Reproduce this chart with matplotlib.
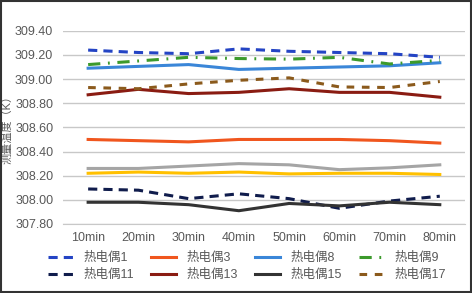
import numpy as np
import matplotlib
matplotlib.use('Agg')
import matplotlib.pyplot as plt
from matplotlib.patches import Rectangle

plt.rcParams['font.family'] = ['Liberation Sans', 'Noto Sans CJK SC', 'DejaVu Sans']

times = ['10min', '20min', '30min', '40min', '50min', '60min', '70min', '80min']

# thermocouple readings (K)
tc1 = [309.24, 309.22, 309.21, 309.25, 309.23, 309.22, 309.21, 309.18]
tc3 = [308.50, 308.49, 308.48, 308.50, 308.50, 308.50, 308.49, 308.47]
tc8 = [309.09, 309.105, 309.12, 309.08, 309.09, 309.10, 309.11, 309.135]
tc9 = [309.12, 309.15, 309.18, 309.17, 309.165, 309.18, 309.125, 309.155]
tc11 = [308.09, 308.08, 308.01, 308.05, 308.01, 307.93, 307.99, 308.03]
tc13 = [308.87, 308.915, 308.88, 308.89, 308.92, 308.89, 308.89, 308.85]
tc15 = [307.98, 307.98, 307.96, 307.91, 307.97, 307.95, 307.98, 307.96]
tc17 = [308.93, 308.92, 308.96, 308.99, 309.01, 308.935, 308.93, 308.98]
# two more series drawn in the chart but cut from its legend
tc_gray = [308.26, 308.26, 308.28, 308.30, 308.29, 308.25, 308.265, 308.29]
tc_yellow = [308.22, 308.23, 308.22, 308.23, 308.215, 308.22, 308.22, 308.21]

fig = plt.figure(figsize=(4.72, 2.93), dpi=100)
ax = fig.add_axes([0.1335, 0.2355, 0.8515, 0.6595])

x = np.arange(len(times))
lw = 2.2

ax.plot(x, tc_gray, color='#A5A5A5', lw=lw)
ax.plot(x, tc_yellow, color='#FFC000', lw=lw)
l1, = ax.plot(x, tc1, color='#2444C4', lw=lw, ls=(0, (3, 2)), label='热电偶1')
l3, = ax.plot(x, tc3, color='#F0561E', lw=lw, label='热电偶3')
l8, = ax.plot(x, tc8, color='#3A86D8', lw=lw, label='热电偶8')
l9, = ax.plot(x, tc9, color='#3C9A2C', lw=lw, ls=(0, (4, 2.5, 0.6, 2.5)), label='热电偶9')
l11, = ax.plot(x, tc11, color='#101C4C', lw=lw, ls=(0, (3, 2)), label='热电偶11')
l13, = ax.plot(x, tc13, color='#8A1C12', lw=lw, label='热电偶13')
l15, = ax.plot(x, tc15, color='#333333', lw=lw, label='热电偶15')
l17, = ax.plot(x, tc17, color='#8B5A1C', lw=lw, ls=(0, (2.5, 2.5)), label='热电偶17')

ax.set_xlim(-0.5, len(times) - 0.5)
ax.set_ylim(307.8, 309.4)
ax.set_yticks(np.arange(307.8, 309.41, 0.2))
ax.set_yticklabels(['%.2f' % v for v in np.arange(307.8, 309.41, 0.2)])
ax.set_xticks(x)
ax.set_xticklabels(times)
ax.grid(axis='y', color='#C8C8C8', lw=1)
ax.set_axisbelow(True)
for s in ['top', 'right', 'left']:
    ax.spines[s].set_visible(False)
ax.spines['bottom'].set_color('#C8C8C8')
ax.tick_params(length=0, labelsize=9, colors='#595959', pad=6)
ax.tick_params(axis='y', pad=7)
ax.set_ylabel('测量温度（K）', fontsize=8, color='#595959')
ax.yaxis.set_label_coords(-0.125, 0.5)

handles = [l1, l11, l3, l13, l8, l15, l9, l17]
fig.legend(handles, [h.get_label() for h in handles], ncol=4, loc='center',
           bbox_to_anchor=(0.523, 0.09), frameon=False, fontsize=9,
           handlelength=2.0, handletextpad=0.8, columnspacing=1.4,
           labelspacing=0.4, labelcolor='#595959')

fig.patches.append(Rectangle((0.002, 0.003), 0.995, 0.994, transform=fig.transFigure,
                             fill=False, edgecolor='#333333', lw=1.5))

fig.savefig('out.png', dpi=100)
